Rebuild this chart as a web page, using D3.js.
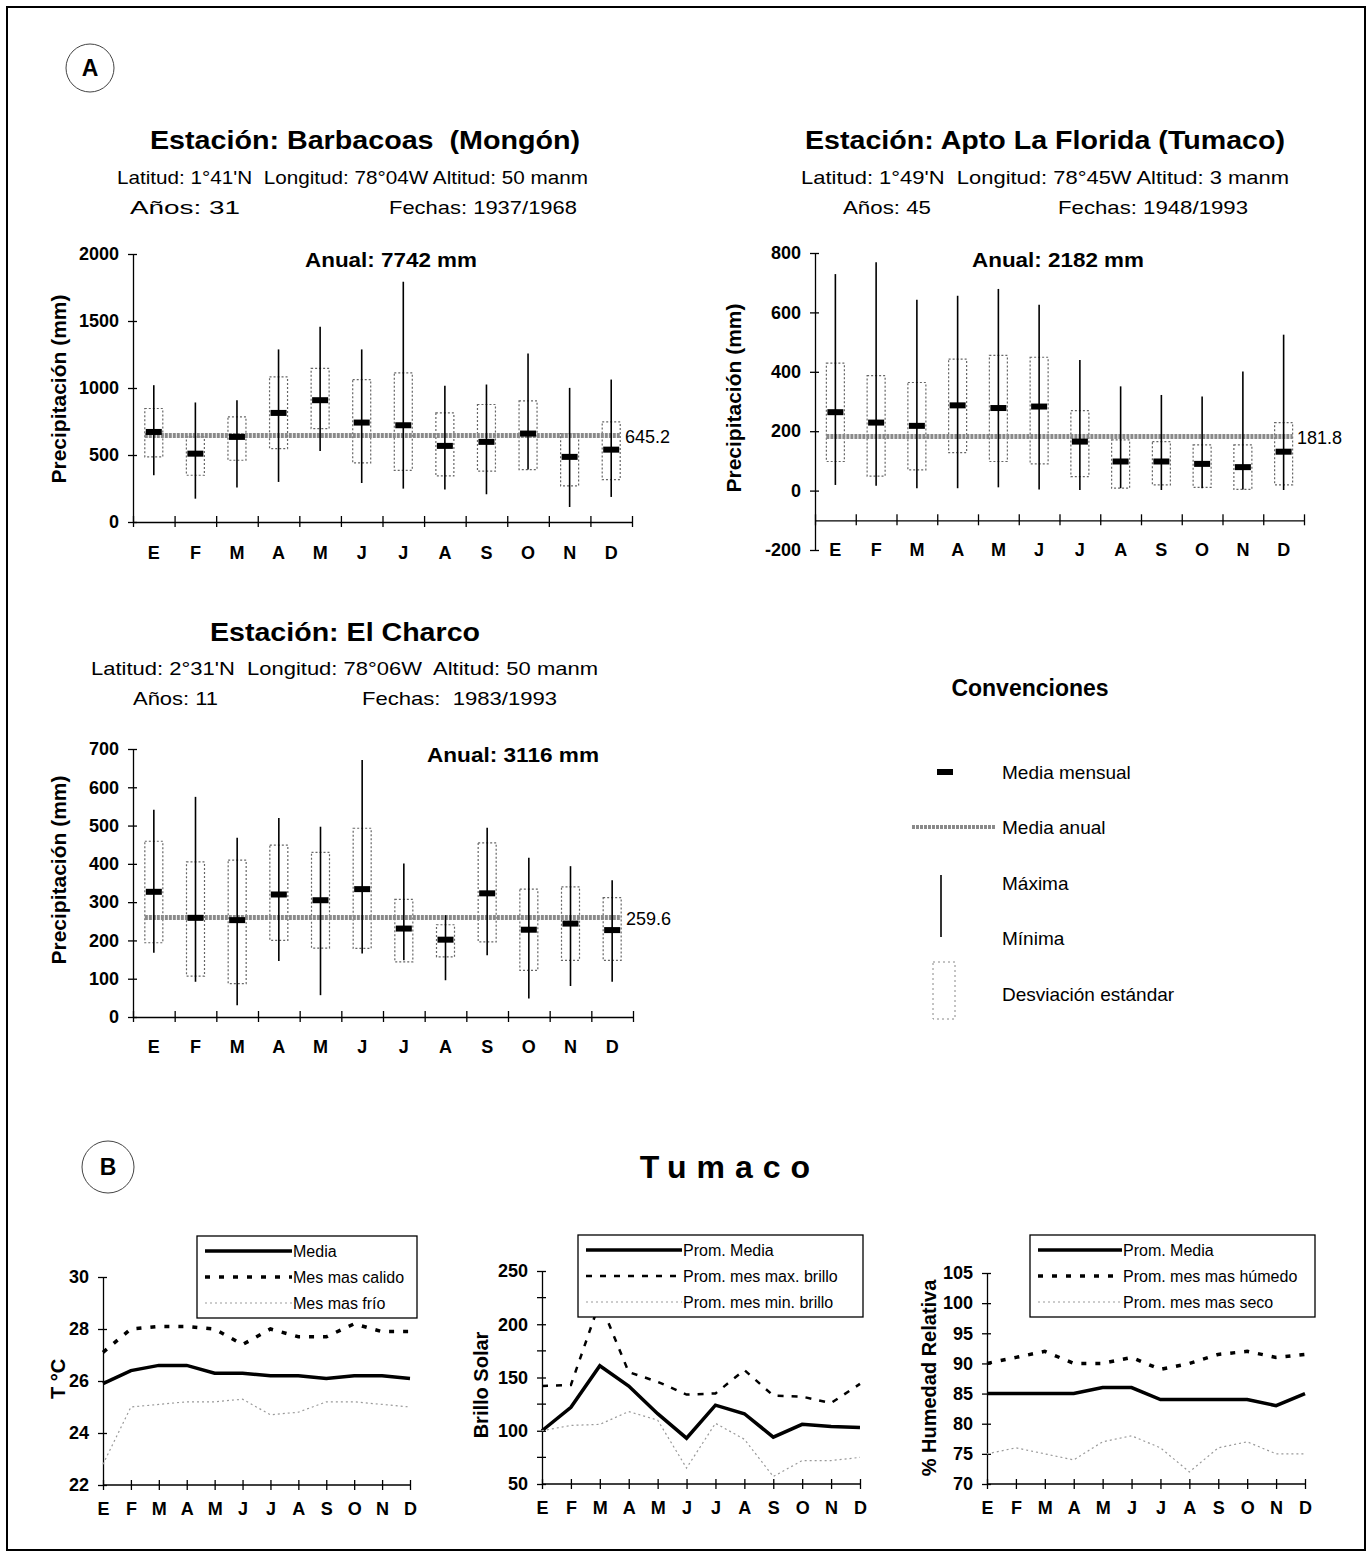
<!DOCTYPE html>
<html>
<head>
<meta charset="utf-8">
<script src="https://cdn.jsdelivr.net/npm/d3@7"></script>
<style>
  body { margin: 0; background: #fff; }
  svg { font-family: "Liberation Sans", Arial, sans-serif; }
  svg text { white-space: pre; }
  .axis path, .axis line { stroke: #000; stroke-width: 1.3; }
  .axis text { font-size: 18px; font-weight: bold; fill: #000; }
</style>
</head>
<body>
<svg id="chart" width="1372" height="1553"></svg>
<script>
// Months (Spanish initials)
const months = ["E","F","M","A","M","J","J","A","S","O","N","D"]

// Barbacoas (Mongón) precipitation, mm
const barbMean  = [672, 510, 635, 814, 909, 742, 722, 568, 598, 660, 486, 540]
const barbSdHi  = [847, 635, 785, 1083, 1146, 1063, 1113, 814, 877, 904, 660, 747]
const barbSdLo  = [486, 349, 461, 548, 697, 441, 386, 344, 379, 391, 269, 316]
const barbMax   = [1021, 892, 909, 1288, 1457, 1288, 1793, 1016, 1026, 1258, 1001, 1063]
const barbMin   = [349, 174, 257, 299, 530, 291, 249, 242, 207, 391, 112, 187]
const barbAnual = 645.2

// Apto La Florida (Tumaco) precipitation, mm
const tumMean  = [264, 229, 218, 287, 278, 283, 165, 98, 98, 90, 79, 131]
const tumSdHi  = [429, 387, 364, 443, 455, 449, 269, 171, 165, 154, 154, 229]
const tumSdLo  = [98, 49, 70, 128, 98, 90, 47, 8, 19, 11, 4, 19]
const tumMax   = [729, 769, 643, 656, 679, 626, 440, 351, 322, 317, 401, 525]
const tumMin   = [19, 16, 8, 8, 11, 4, 2, 8, 2, 8, 4, 2]
const tumAnual = 181.8

// El Charco precipitation, mm
const charMean  = [327, 259, 253, 320, 305, 334, 231, 202, 323, 228, 244, 227]
const charSdHi  = [459, 405, 410, 449, 430, 493, 307, 241, 455, 334, 340, 312]
const charSdLo  = [194, 107, 87, 200, 180, 179, 144, 157, 196, 122, 148, 148]
const charMax   = [541, 575, 468, 520, 497, 671, 401, 266, 494, 416, 394, 357]
const charMin   = [168, 92, 31, 146, 57, 166, 148, 96, 161, 48, 81, 92]
const charAnual = 259.6

// Tumaco climate (part B)
const tempMedia   = [25.9, 26.4, 26.6, 26.6, 26.3, 26.3, 26.2, 26.2, 26.1, 26.2, 26.2, 26.1]
const tempCalido  = [27.1, 28.0, 28.1, 28.1, 28.0, 27.4, 28.0, 27.7, 27.7, 28.2, 27.9, 27.9]
const tempFrio    = [22.8, 25.0, 25.1, 25.2, 25.2, 25.3, 24.7, 24.8, 25.2, 25.2, 25.1, 25.0]

const brilloMedia = [100, 122, 161, 142, 116, 93, 124, 116, 94, 106, 104, 103]
const brilloMax   = [142, 143, 221, 155, 146, 134, 135, 157, 133, 132, 126, 144]
const brilloMin   = [100, 105, 106, 118, 110, 65, 107, 92, 57, 72, 72, 75]

const humMedia  = [85, 85, 85, 85, 86, 86, 84, 84, 84, 84, 83, 85]
const humHumedo = [90, 91, 92, 90, 90, 91, 89, 90, 91.5, 92, 91, 91.5]
const humSeco   = [75, 76, 75, 74, 77, 78, 76, 72, 76, 77, 75, 75]

const svg = d3.select("#chart")
const numFmt = d => String(d)   // plain integers, ascii minus

// Frame
svg.append("rect").attr("x", 7).attr("y", 7).attr("width", 1358).attr("height", 1543)
   .attr("fill", "none").attr("stroke", "#000").attr("stroke-width", 2)

// Helper for plain text
function txt(x, y, s, size, weight, anchor, len) {
    const t = svg.append("text").attr("x", x).attr("y", y).text(s)
        .attr("font-size", size).attr("font-weight", weight || "normal")
        .attr("text-anchor", anchor || "start")
    if (len) t.attr("textLength", len).attr("lengthAdjust", "spacingAndGlyphs")
    return t
}

// Circled letters
function circled(cx, cy, r, s) {
    svg.append("circle").attr("cx", cx).attr("cy", cy).attr("r", r)
       .attr("fill", "none").attr("stroke", "#444").attr("stroke-width", 1)
    txt(cx, cy + 8, s, 23, "bold", "middle")
}
circled(90, 68, 24, "A")
circled(108, 1167, 26, "B")

// Station headers
txt(150, 149, "Estación: Barbacoas  (Mongón)", 26, "bold", "start", 430)
txt(117, 184, "Latitud: 1°41'N  Longitud: 78°04W Altitud: 50 manm", 19, "normal", "start", 471)
txt(130, 214, "Años: 31", 19, "normal", "start", 110)
txt(389, 214, "Fechas: 1937/1968", 19, "normal", "start", 188)

txt(805, 149, "Estación: Apto La Florida (Tumaco)", 26, "bold", "start", 480)
txt(801, 184, "Latitud: 1°49'N  Longitud: 78°45W Altitud: 3 manm", 19, "normal", "start", 488)
txt(843, 214, "Años: 45", 19, "normal", "start", 88)
txt(1058, 214, "Fechas: 1948/1993", 19, "normal", "start", 190)

txt(210, 641, "Estación: El Charco", 26, "bold", "start", 270)
txt(91, 675, "Latitud: 2°31'N  Longitud: 78°06W  Altitud: 50 manm", 19, "normal", "start", 507)
txt(133, 705, "Años: 11", 19, "normal", "start", 85)
txt(362, 705, "Fechas:  1983/1993", 19, "normal", "start", 195)

// Precipitation box chart
function precipChart(cfg) {
    const g = svg.append("g")
    const x = d3.scaleBand().domain(d3.range(12)).range([cfg.x0, cfg.x1])
    const xEdge = d3.scaleLinear().domain([0, 12]).range([cfg.x0, cfg.x1])
    const y = d3.scaleLinear().domain(cfg.domain).range([cfg.yBottom, cfg.yTop])
    const cx = i => x(i) + x.bandwidth() / 2

    // y axis with crossing ticks
    const yAx = g.append("g").attr("class", "axis")
        .attr("transform", `translate(${cfg.x0},0)`)
        .call(d3.axisLeft(y).tickValues(cfg.ticks).tickFormat(numFmt)
            .tickSize(5).tickSizeOuter(0).tickPadding(9))
    yAx.selectAll(".tick line").attr("x1", 4)

    // x axis with ticks at month boundaries
    const xAx = g.append("g").attr("class", "axis")
        .attr("transform", `translate(0,${y(cfg.xAxisAt)})`)
        .call(d3.axisBottom(xEdge).ticks(12).tickSize(5).tickSizeOuter(0).tickFormat(""))
    xAx.selectAll(".tick line").attr("y1", -6)

    g.selectAll(".mlab").data(months).join("text")
        .attr("x", (d, i) => cx(i)).attr("y", cfg.labelY)
        .attr("text-anchor", "middle").attr("font-size", 18).attr("font-weight", "bold")
        .text(d => d)

    // standard deviation boxes
    g.selectAll(".sd").data(cfg.hi).join("rect")
        .attr("x", (d, i) => cx(i) - 9).attr("width", 18)
        .attr("y", d => y(d)).attr("height", (d, i) => y(cfg.lo[i]) - y(d))
        .attr("fill", "none").attr("stroke", "#666").attr("stroke-width", 1.2)
        .attr("stroke-dasharray", "2,2")

    // annual mean line
    g.append("line")
        .attr("x1", cx(0) - 9).attr("x2", cx(11) + 9)
        .attr("y1", y(cfg.anual)).attr("y2", y(cfg.anual))
        .attr("stroke", "#8a8a8a").attr("stroke-width", 5).attr("stroke-dasharray", "3,1")

    // max-min lines
    g.selectAll(".rng").data(cfg.max).join("line")
        .attr("x1", (d, i) => cx(i)).attr("x2", (d, i) => cx(i))
        .attr("y1", d => y(d)).attr("y2", (d, i) => y(cfg.min[i]))
        .attr("stroke", "#000").attr("stroke-width", 1.6)

    // monthly mean
    g.selectAll(".mean").data(cfg.mean).join("rect")
        .attr("x", (d, i) => cx(i) - 8).attr("width", 16)
        .attr("y", d => y(d) - 3).attr("height", 6).attr("fill", "#000")

    // annual mean value
    g.append("text").attr("x", cfg.x1 - 7).attr("y", y(cfg.anual) + 7)
        .attr("font-size", 18).text(cfg.anual.toFixed(1))

    // annual total
    g.append("text").attr("x", cfg.anualX).attr("y", cfg.anualY)
        .attr("font-size", 20).attr("font-weight", "bold")
        .attr("textLength", 172).attr("lengthAdjust", "spacingAndGlyphs")
        .text(cfg.anualText)

    // y title
    g.append("text").attr("transform", `translate(${cfg.titleX},${cfg.titleY}) rotate(-90)`)
        .attr("text-anchor", "middle").attr("font-size", 21).attr("font-weight", "bold")
        .text("Precipitación (mm)")
}

precipChart({
    x0: 133, x1: 632, yBottom: 522, yTop: 254, domain: [0, 2000],
    ticks: [0, 500, 1000, 1500, 2000], xAxisAt: 0, labelY: 559,
    mean: barbMean, hi: barbSdHi, lo: barbSdLo, max: barbMax, min: barbMin, anual: barbAnual,
    anualText: "Anual: 7742 mm", anualX: 305, anualY: 267, titleX: 66, titleY: 389
})
precipChart({
    x0: 815, x1: 1304, yBottom: 550, yTop: 253, domain: [-200, 800],
    ticks: [-200, 0, 200, 400, 600, 800], xAxisAt: -100, labelY: 556,
    mean: tumMean, hi: tumSdHi, lo: tumSdLo, max: tumMax, min: tumMin, anual: tumAnual,
    anualText: "Anual: 2182 mm", anualX: 972, anualY: 267, titleX: 741, titleY: 398
})
precipChart({
    x0: 133, x1: 633, yBottom: 1017, yTop: 749, domain: [0, 700],
    ticks: d3.range(0, 701, 100), xAxisAt: 0, labelY: 1053,
    mean: charMean, hi: charSdHi, lo: charSdLo, max: charMax, min: charMin, anual: charAnual,
    anualText: "Anual: 3116 mm", anualX: 427, anualY: 762, titleX: 66, titleY: 870
})

// Convenciones legend
txt(1030, 696, "Convenciones", 23, "bold", "middle")
svg.append("rect").attr("x", 937).attr("y", 769).attr("width", 16).attr("height", 6).attr("fill", "#000")
txt(1002, 779, "Media mensual", 19)
svg.append("line").attr("x1", 912).attr("x2", 995).attr("y1", 827).attr("y2", 827)
   .attr("stroke", "#8a8a8a").attr("stroke-width", 4).attr("stroke-dasharray", "3,1")
txt(1002, 834, "Media anual", 19)
svg.append("line").attr("x1", 941).attr("x2", 941).attr("y1", 875).attr("y2", 937)
   .attr("stroke", "#000").attr("stroke-width", 1.6)
txt(1002, 890, "Máxima", 19)
txt(1002, 945, "Mínima", 19)
svg.append("rect").attr("x", 933).attr("y", 962).attr("width", 22).attr("height", 57)
   .attr("fill", "none").attr("stroke", "#888").attr("stroke-width", 1).attr("stroke-dasharray", "2,3")
txt(1002, 1001, "Desviación estándar", 19)

// Part B title
txt(730, 1178, "Tumaco", 32, "bold", "middle").attr("letter-spacing", 10)

// Line chart for part B
function lineChart(cfg) {
    const g = svg.append("g")
    const x = d3.scalePoint().domain(d3.range(12)).range([cfg.x0, cfg.x1])
    const y = d3.scaleLinear().domain(cfg.domain).range([cfg.yBottom, cfg.yTop])

    const yAx = g.append("g").attr("class", "axis")
        .attr("transform", `translate(${cfg.x0},0)`)
        .call(d3.axisLeft(y).tickValues(cfg.ticks).tickFormat(numFmt)
            .tickSize(5).tickSizeOuter(0).tickPadding(9))
    yAx.selectAll(".tick line").attr("x1", 4)
    if (cfg.minor) {
        g.selectAll(".minor").data(cfg.minor).join("line")
            .attr("x1", cfg.x0 - 5).attr("x2", cfg.x0 + 4)
            .attr("y1", d => y(d)).attr("y2", d => y(d))
            .attr("stroke", "#000").attr("stroke-width", 1.3)
    }

    const line = d3.line().x((d, i) => x(i)).y(d => y(d))
    cfg.series.forEach(s => {
        g.append("path").datum(s.values).attr("d", line).attr("fill", "none")
            .attr("stroke", s.color).attr("stroke-width", s.width)
            .attr("stroke-dasharray", s.dash)
    })

    const xAx = g.append("g").attr("class", "axis")
        .attr("transform", `translate(0,${cfg.yBottom})`)
        .call(d3.axisBottom(x).tickSize(5).tickSizeOuter(0).tickPadding(12).tickFormat(i => months[i]))
    xAx.selectAll(".tick line").attr("y1", -5)
    xAx.select(".domain").attr("d", `M${cfg.x0},0H${cfg.x1}`)

    // legend box
    const lg = g.append("g")
    lg.append("rect").attr("x", cfg.lx).attr("y", cfg.ly).attr("width", cfg.lw).attr("height", 82)
        .attr("fill", "#fff").attr("stroke", "#000").attr("stroke-width", 1.3)
    cfg.series.forEach((s, k) => {
        const yy = cfg.ly + 15 + k * 26
        lg.append("line").attr("x1", cfg.lx + 8).attr("x2", cfg.lx + cfg.lsample)
            .attr("y1", yy).attr("y2", yy)
            .attr("stroke", s.color).attr("stroke-width", s.width).attr("stroke-dasharray", s.dash)
        lg.append("text").attr("x", cfg.lx + cfg.lsample + 1).attr("y", yy + 6)
            .attr("font-size", 16).text(s.name)
    })

    g.append("text").attr("transform", `translate(${cfg.titleX},${cfg.titleY}) rotate(-90)`)
        .attr("text-anchor", "middle").attr("font-size", 20).attr("font-weight", "bold")
        .text(cfg.title)
}

const solid = { color: "#000", width: 3.5, dash: null }
const dashed = { color: "#000", width: 3.5, dash: "5,9" }
const dotted = { color: "#999", width: 1.2, dash: "2,3" }

lineChart({
    x0: 103, x1: 410, yBottom: 1485, yTop: 1277, domain: [22, 30], ticks: [22, 24, 26, 28, 30],
    title: "T °C", titleX: 65, titleY: 1379, lx: 197, ly: 1236, lw: 220, lsample: 95,
    series: [
        Object.assign({ name: "Media", values: tempMedia }, solid),
        Object.assign({ name: "Mes mas calido", values: tempCalido }, dashed),
        Object.assign({ name: "Mes mas frío", values: tempFrio }, dotted)
    ]
})
lineChart({
    x0: 542, x1: 860, yBottom: 1484, yTop: 1271, domain: [50, 250], ticks: [50, 100, 150, 200, 250],
    minor: [75, 125, 175, 225],
    title: "Brillo Solar", titleX: 488, titleY: 1385, lx: 578, ly: 1235, lw: 285, lsample: 104,
    series: [
        Object.assign({ name: "Prom. Media", values: brilloMedia }, solid),
        Object.assign({ name: "Prom. mes max. brillo", values: brilloMax }, { color: "#000", width: 2.5, dash: "6,8" }),
        Object.assign({ name: "Prom. mes min. brillo", values: brilloMin }, dotted)
    ]
})
lineChart({
    x0: 987, x1: 1305, yBottom: 1484, yTop: 1273, domain: [70, 105], ticks: d3.range(70, 106, 5),
    title: "% Humedad Relativa", titleX: 936, titleY: 1378, lx: 1030, ly: 1235, lw: 285, lsample: 92,
    series: [
        Object.assign({ name: "Prom. Media", values: humMedia }, solid),
        Object.assign({ name: "Prom. mes mas húmedo", values: humHumedo }, dashed),
        Object.assign({ name: "Prom. mes mas seco", values: humSeco }, dotted)
    ]
})
</script>
</body>
</html>
